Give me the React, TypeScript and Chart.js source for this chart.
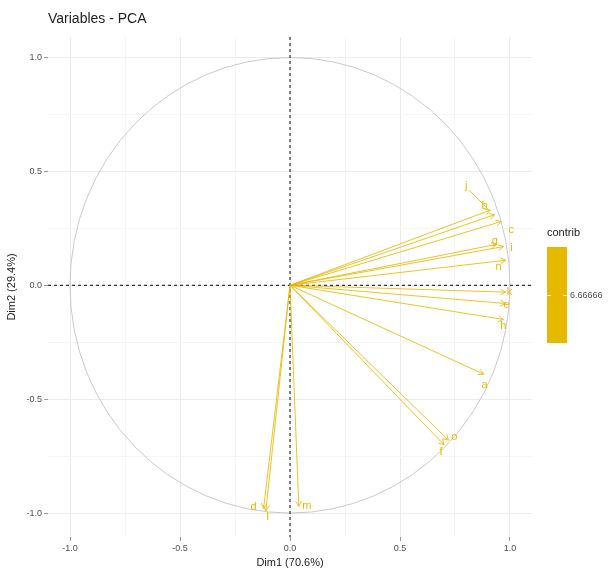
import React, { useEffect, useRef } from "react";
import { Chart, registerables } from "chart.js";

Chart.register(...registerables);

// ---- data ----
const VARIABLES = ["a", "b", "c", "d", "e", "f", "g", "h", "i", "j", "k", "l", "m", "n", "o"];
const DIM1 = [0.88, 0.93, 0.96, -0.12, 0.98, 0.70, 0.94, 0.97, 0.97, 0.91, 0.98, -0.11, 0.04, 0.98, 0.72];
const DIM2 = [-0.39, 0.31, 0.28, -0.98, -0.08, -0.70, 0.18, -0.15, 0.17, 0.33, -0.03, -0.99, -0.97, 0.11, -0.68];
const CONTRIB_VALUE = 6.66666;
const TICK_VALUES = [-1, -0.75, -0.5, -0.25, 0, 0.25, 0.5, 0.75, 1];
const LABELED_TICKS = [-1, -0.5, 0, 0.5, 1];
const X_TITLE = "Dim1 (70.6%)";
const Y_TITLE = "Dim2 (29.4%)";
const CHART_TITLE = "Variables - PCA";

// ---- styling (label nudges in px) ----
const LABEL_NUDGE: Record<string, [number, number]> = {
  a: [1, 11], b: [-10, -9], c: [10, 8], d: [-10, -2], e: [1, 1], f: [-3, 7],
  g: [-2, -3], h: [0, 7], i: [8, 1], j: [-24, -24], k: [4, 0], l: [2, 6],
  m: [8, 0], n: [-7, 7], o: [6, -3],
};
const GOLD = "#E7B800";
const LINE_GOLD = "rgba(231,184,0,0.85)";
const FONT = "'Liberation Sans', Arial, Helvetica, sans-serif";

function isMajor(v: number) {
  return LABELED_TICKS.some((t) => Math.abs(t - v) < 1e-9);
}

export default function App() {
  const ref = useRef<HTMLCanvasElement | null>(null);

  useEffect(() => {
    document.body.style.margin = "0";
    const canvas = ref.current;
    if (!canvas) return;
    Chart.defaults.font.family = FONT;

    const decor = {
      id: "decor",
      beforeDatasetsDraw(chart: any) {
        const { ctx, chartArea: ca, scales } = chart;
        const xs = scales.x, ys = scales.y;
        const cx = xs.getPixelForValue(0), cy = ys.getPixelForValue(0);
        const rx = xs.getPixelForValue(1) - cx;
        const ry = cy - ys.getPixelForValue(1);
        ctx.save();
        ctx.beginPath();
        ctx.rect(ca.left, ca.top, ca.right - ca.left, ca.bottom - ca.top);
        ctx.clip();
        ctx.strokeStyle = "#C9C9C9";
        ctx.lineWidth = 1;
        ctx.beginPath();
        ctx.ellipse(cx, cy, rx, ry, 0, 0, Math.PI * 2);
        ctx.stroke();
        ctx.strokeStyle = "#333333";
        ctx.lineWidth = 1.2;
        ctx.setLineDash([3, 3]);
        ctx.beginPath();
        ctx.moveTo(ca.left, cy);
        ctx.lineTo(ca.right, cy);
        ctx.moveTo(cx, ca.top);
        ctx.lineTo(cx, ca.bottom);
        ctx.stroke();
        ctx.restore();
      },
      afterDatasetsDraw(chart: any) {
        const { ctx } = chart;
        ctx.save();
        chart.data.datasets.forEach((ds: any, i: number) => {
          const meta = chart.getDatasetMeta(i);
          const p0 = meta.data[0], p1 = meta.data[1];
          if (!p0 || !p1) return;
          const ang = Math.atan2(p1.y - p0.y, p1.x - p0.x);
          const L = 6, A = Math.PI / 6;
          ctx.strokeStyle = LINE_GOLD;
          ctx.lineWidth = 1;
          ctx.beginPath();
          ctx.moveTo(p1.x - L * Math.cos(ang - A), p1.y - L * Math.sin(ang - A));
          ctx.lineTo(p1.x, p1.y);
          ctx.lineTo(p1.x - L * Math.cos(ang + A), p1.y - L * Math.sin(ang + A));
          ctx.stroke();
          const nd = LABEL_NUDGE[ds.label] || [0, 0];
          ctx.fillStyle = GOLD;
          ctx.font = `11px ${FONT}`;
          ctx.textAlign = "center";
          ctx.textBaseline = "middle";
          const lx = p1.x + nd[0], ly = p1.y + nd[1];
          if (ds.label === "j") {
            ctx.beginPath();
            ctx.moveTo(lx + 3, ly + 4);
            ctx.lineTo(p1.x - 2, p1.y - 1);
            ctx.stroke();
          }
          ctx.fillText(ds.label, lx, ly);
        });
        ctx.restore();
      },
      afterDraw(chart: any) {
        const { ctx, chartArea: ca } = chart;
        ctx.save();
        // title
        ctx.fillStyle = "#222222";
        ctx.font = `14px ${FONT}`;
        ctx.textAlign = "left";
        ctx.textBaseline = "middle";
        ctx.fillText(CHART_TITLE, ca.left, 19);
        // legend
        const lx = ca.right + 15;
        ctx.font = `11px ${FONT}`;
        ctx.fillStyle = "#222222";
        ctx.fillText("contrib", lx, 233);
        ctx.fillStyle = GOLD;
        ctx.fillRect(lx, 247, 20, 96);
        ctx.strokeStyle = "rgba(255,255,255,0.8)";
        ctx.lineWidth = 1;
        ctx.beginPath();
        ctx.moveTo(lx, 295.5); ctx.lineTo(lx + 4, 295.5);
        ctx.moveTo(lx + 16, 295.5); ctx.lineTo(lx + 20, 295.5);
        ctx.stroke();
        ctx.fillStyle = "#4D4D4D";
        ctx.font = `9px ${FONT}`;
        ctx.fillText(CONTRIB_VALUE.toFixed(5), lx + 23, 295.5);
        ctx.restore();
      },
    };

    const gridColor = (c: any) => (c.tick && isMajor(c.tick.value) ? "#EBEBEB" : "#F5F5F5");
    const tickColor = (c: any) => (c.tick && isMajor(c.tick.value) ? "#999999" : "rgba(0,0,0,0)");

    const chart = new Chart(canvas, {
      type: "scatter",
      data: {
        datasets: VARIABLES.map((v, i) => ({
          label: v,
          data: [{ x: 0, y: 0 }, { x: DIM1[i], y: DIM2[i] }],
          showLine: true,
          borderColor: LINE_GOLD,
          borderWidth: 1,
          pointRadius: 0,
          fill: false,
        })),
      },
      options: {
        responsive: false,
        animation: false,
        layout: { padding: { top: 37, right: 78, left: 5, bottom: 0 } },
        plugins: { legend: { display: false }, tooltip: { enabled: false } },
        scales: {
          x: {
            type: "linear",
            min: -1.1,
            max: 1.1,
            afterBuildTicks: (s: any) => { s.ticks = TICK_VALUES.map((v) => ({ value: v })); },
            afterFit: (s: any) => { s.height = 33; },
            ticks: {
              autoSkip: false,
              maxRotation: 0,
              padding: 2,
              color: "#4D4D4D",
              font: { size: 9 },
              callback: (v: any) => (isMajor(Number(v)) ? Number(v).toFixed(1) : ""),
            },
            grid: { color: gridColor, tickColor: tickColor, tickLength: 4, drawTicks: true },
            border: { display: false },
            title: { display: true, text: X_TITLE, color: "#222222", font: { size: 11 }, padding: { top: 1, bottom: 0 } },
          },
          y: {
            type: "linear",
            min: -1.105,
            max: 1.09,
            afterBuildTicks: (s: any) => { s.ticks = TICK_VALUES.map((v) => ({ value: v })); },
            afterFit: (s: any) => { s.width = 43; },
            ticks: {
              autoSkip: false,
              padding: 2,
              color: "#4D4D4D",
              font: { size: 9 },
              callback: (v: any) => (isMajor(Number(v)) ? Number(v).toFixed(1) : ""),
            },
            grid: { color: gridColor, tickColor: tickColor, tickLength: 4, drawTicks: true },
            border: { display: false },
            title: { display: true, text: Y_TITLE, color: "#222222", font: { size: 11 }, padding: { top: 0, bottom: 2 } },
          },
        },
      },
      plugins: [decor],
    } as any);

    return () => chart.destroy();
  }, []);

  return (
    <div style={{ position: "absolute", left: 0, top: 0, width: 610, height: 570 }}>
      <canvas ref={ref} width={610} height={570} style={{ display: "block" }} />
    </div>
  );
}
